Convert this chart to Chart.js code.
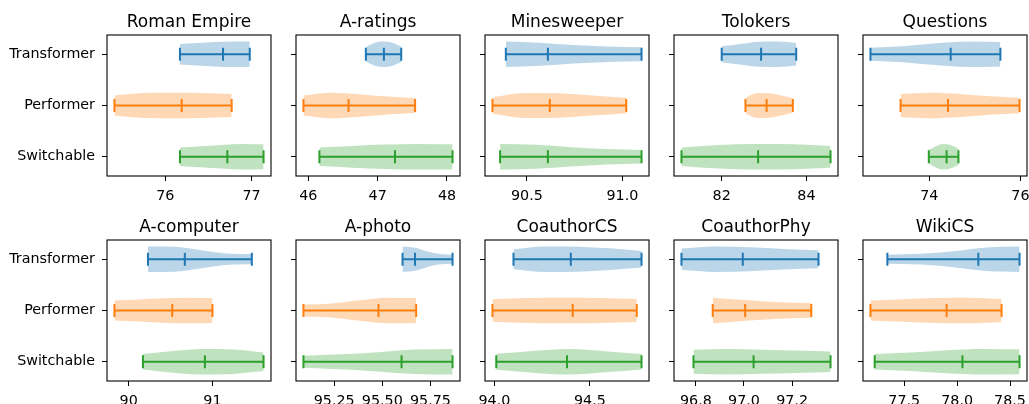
<!DOCTYPE html>
<html>
<head>
<meta charset="utf-8">
<script src="https://cdn.jsdelivr.net/npm/chart.js@4.4.0/dist/chart.umd.min.js"></script>
<style>
  html, body { margin: 0; padding: 0; background: #fff; }
  #wrap { position: relative; width: 1029px; height: 404px; overflow: hidden; }
  #wrap canvas { position: absolute; }
</style>
</head>
<body>
<div id="wrap"></div>
<script>
const datasets = ["Roman Empire", "A-ratings", "Minesweeper", "Tolokers", "Questions",
  "A-computer", "A-photo", "CoauthorCS", "CoauthorPhy", "WikiCS"];
const models = ["Transformer", "Performer", "Switchable"];
const colors = ["#1f77b4", "#ff7f0e", "#2ca02c"];
const fills = ["rgba(31,119,180,0.3)", "rgba(255,127,14,0.3)", "rgba(44,160,44,0.3)"];

// [min, middle, max] per dataset
const transformerStats = [
  [76.17, 76.67, 76.98], [46.83, 47.09, 47.34], [90.39, 90.61, 91.10], [82.00, 82.93, 83.76],
  [72.71, 74.47, 75.56], [90.23, 90.67, 91.47], [95.605, 95.67, 95.865], [94.10, 94.40, 94.77],
  [96.74, 96.995, 97.31], [77.34, 78.20, 78.59]
];
const performerStats = [
  [75.41, 76.19, 76.77], [45.93, 46.58, 47.54], [90.32, 90.62, 91.02], [82.56, 83.06, 83.68],
  [73.37, 74.41, 75.98], [89.83, 90.52, 91.00], [95.09, 95.48, 95.676], [93.99, 94.41, 94.745],
  [96.87, 97.005, 97.28], [77.18, 77.90, 78.42]
];
const switchableStats = [
  [76.17, 76.72, 77.14], [46.16, 47.25, 48.08], [90.36, 90.61, 91.10], [81.05, 82.86, 84.57],
  [73.99, 74.38, 74.64], [90.17, 90.91, 91.61], [95.09, 95.60, 95.865], [94.01, 94.38, 94.77],
  [96.79, 97.04, 97.36], [77.22, 78.05, 78.59]
];

// violin width read at 5 evenly spaced spots from min to max (1 = widest)
const transformerShape = [
  [0.8, 0.88, 0.95, 1.0, 1.0], [0.55, 0.9, 1.0, 0.9, 0.6], [1.0, 0.9, 0.72, 0.6, 0.55],
  [0.62, 0.8, 0.98, 1.0, 0.88], [0.5, 0.62, 0.85, 1.0, 0.95], [1.0, 0.98, 0.72, 0.45, 0.4],
  [1.0, 0.9, 0.6, 0.4, 0.35], [0.78, 1.0, 0.97, 0.85, 0.65], [0.83, 1.0, 0.93, 0.8, 0.7],
  [0.35, 0.42, 0.62, 0.92, 1.0]
];
const performerShape = [
  [0.78, 0.97, 1.0, 0.97, 0.9], [0.78, 1.0, 0.88, 0.7, 0.58], [0.65, 0.98, 0.95, 0.78, 0.6],
  [0.6, 0.97, 0.95, 0.78, 0.57], [0.9, 1.0, 0.9, 0.72, 0.6], [0.78, 0.85, 0.95, 1.0, 0.97],
  [0.47, 0.55, 0.8, 1.0, 0.97], [0.88, 0.97, 1.0, 0.98, 0.9], [1.0, 0.85, 0.72, 0.62, 0.57],
  [0.78, 0.88, 0.98, 1.0, 0.9]
];
const switchableShape = [
  [0.72, 0.82, 0.92, 1.0, 0.97], [0.72, 0.85, 0.95, 1.0, 0.97], [1.0, 0.93, 0.75, 0.6, 0.52],
  [0.72, 0.92, 1.0, 0.97, 0.85], [0.52, 0.85, 1.0, 0.9, 0.65], [0.6, 0.85, 1.0, 0.95, 0.72],
  [0.47, 0.58, 0.75, 0.95, 1.0], [0.62, 0.85, 1.0, 0.82, 0.6], [0.93, 1.0, 0.93, 0.87, 0.8],
  [0.6, 0.72, 0.9, 1.0, 0.97]
];

const xTickLabels = [
  ["76", "77"], ["46", "47", "48"], ["90.5", "91.0"], ["82", "84"], ["74", "76"],
  ["90", "91"], ["95.25", "95.50", "95.75"], ["94.0", "94.5"], ["96.8", "97.0", "97.2"],
  ["77.5", "78.0", "78.5"]
];

const allStats = [transformerStats, performerStats, switchableStats];
const allShapes = [transformerShape, performerShape, switchableShape];

const colLeft = [107, 296, 485, 674, 863];
const axW = 164, axH = 141;
const rowTop = [35, 240];
const font = "DejaVu Sans";

// spines on all four sides plus a title centred over the plot area
const frame = {
  id: "frame",
  afterDraw(chart, args, opts) {
    const a = chart.chartArea, ctx = chart.ctx;
    ctx.save();
    ctx.strokeStyle = "#000";
    ctx.lineWidth = 1.1;
    ctx.strokeRect(a.left, a.top, a.right - a.left, a.bottom - a.top);
    ctx.fillStyle = "#000";
    ctx.font = "17px '" + font + "'";
    ctx.textAlign = "center";
    ctx.textBaseline = "alphabetic";
    ctx.fillText(opts.text, (a.left + a.right) / 2, a.top - 8);
    ctx.restore();
  }
};

const wrap = document.getElementById("wrap");

datasets.forEach((name, i) => {
  const row = i < 5 ? 0 : 1;
  const col = i % 5;
  const left = col === 0 ? 0 : colLeft[col] - 22;
  const L = colLeft[col] - left;
  const R = col === 4 ? 2 : 6;
  const top = row === 0 ? 0 : 200;
  const T = rowTop[row] - top;
  const bottom = row === 0 ? 202 : 404;
  const B = bottom - (rowTop[row] + axH);

  const canvas = document.createElement("canvas");
  canvas.width = L + axW + R;
  canvas.height = bottom - top;
  canvas.style.left = left + "px";
  canvas.style.top = top + "px";
  wrap.appendChild(canvas);

  const sets = [];
  let lo = Infinity, hi = -Infinity;
  models.forEach((m, k) => {
    const s = allStats[k][i];
    const w = allShapes[k][i];
    const pos = k + 1;
    lo = Math.min(lo, s[0]);
    hi = Math.max(hi, s[2]);
    const xs = w.map((_, j) => s[0] + (s[2] - s[0]) * j / (w.length - 1));
    sets.push({
      data: xs.map((x, j) => ({ x, y: pos - 0.25 * w[j] })),
      fill: "+1", backgroundColor: fills[k], borderWidth: 0,
      pointRadius: 0, cubicInterpolationMode: "monotone", order: 2
    });
    sets.push({
      data: xs.map((x, j) => ({ x, y: pos + 0.25 * w[j] })),
      fill: false, borderWidth: 0,
      pointRadius: 0, cubicInterpolationMode: "monotone", order: 2
    });
    sets.push({
      data: [{ x: s[0], y: pos }, { x: s[2], y: pos }],
      borderColor: colors[k], borderWidth: 2, pointRadius: 0, fill: false, order: 1
    });
    s.forEach(v => {
      sets.push({
        data: [{ x: v, y: pos - 0.125 }, { x: v, y: pos + 0.125 }],
        borderColor: colors[k], borderWidth: 2, pointRadius: 0, fill: false, order: 1
      });
    });
  });
  const pad = (hi - lo) * 0.05;
  const labels = xTickLabels[i];

  new Chart(canvas, {
    type: "line",
    data: { datasets: sets },
    options: {
      responsive: false,
      animation: false,
      devicePixelRatio: 1,
      layout: { padding: { left: 0, right: R, top: T, bottom: 0 } },
      plugins: {
        legend: { display: false },
        tooltip: { enabled: false },
        title: { display: false },
        frame: { text: name }
      },
      scales: {
        x: {
          type: "linear", min: lo - pad, max: hi + pad,
          border: { display: false },
          grid: { drawOnChartArea: false, drawTicks: true, tickLength: 5, tickColor: "#000", tickWidth: 1 },
          ticks: {
            color: "#000", font: { family: font, size: 14.3 }, padding: 7,
            autoSkip: false, maxRotation: 0, minRotation: 0,
            callback: (v, idx) => labels[idx]
          },
          afterBuildTicks: sc => { sc.ticks = labels.map(t => ({ value: parseFloat(t) })); },
          afterFit: sc => { sc.height = B; sc.paddingLeft = 0; sc.paddingRight = 0; }
        },
        y: {
          type: "linear", min: 0.625, max: 3.375, reverse: true,
          border: { display: false },
          grid: { drawOnChartArea: false, drawTicks: true, tickLength: 5, tickColor: "#000", tickWidth: 1 },
          ticks: {
            color: "#000", font: { family: font, size: 14.3 }, padding: 7,
            callback: v => col === 0 ? models[v - 1] : ""
          },
          afterBuildTicks: sc => { sc.ticks = [1, 2, 3].map(v => ({ value: v })); },
          afterFit: sc => { sc.width = L; sc.paddingTop = 0; sc.paddingBottom = 0; }
        }
      }
    },
    plugins: [frame]
  });
});
</script>
</body>
</html>
